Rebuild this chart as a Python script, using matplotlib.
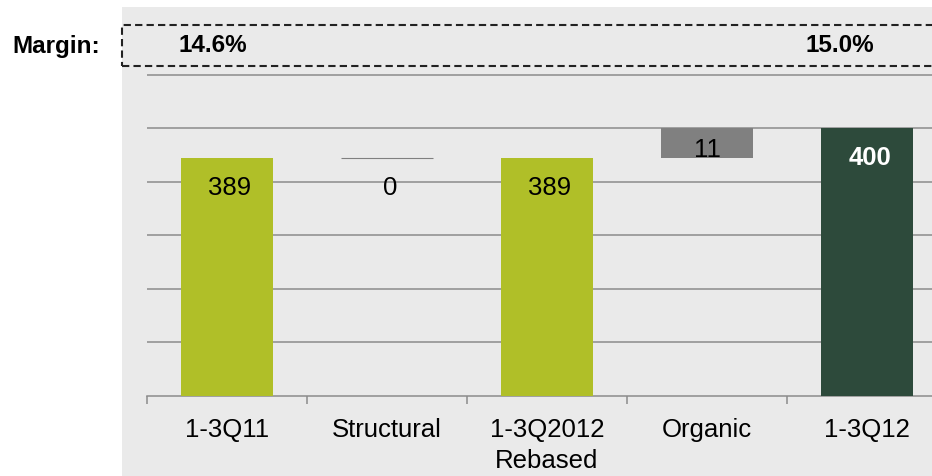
import matplotlib.pyplot as plt
from matplotlib.patches import Rectangle
import numpy as np

plt.rcParams['font.family'] = ['Liberation Sans', 'DejaVu Sans']

# waterfall data
categories = ['1-3Q11', 'Structural', '1-3Q2012\nRebased', 'Organic', '1-3Q12']
values = [389, 0, 389, 11, 400]
is_total = [True, False, True, False, True]
margin_labels = ['14.6%', '15.0%']

lime = '#B0BF28'
dark = '#2D4A3B'
delta_grey = '#808080'
bg = '#EAEAEA'
grid_col = '#8C8C8C'

fig = plt.figure(figsize=(9.32, 4.76), dpi=100)
fig.patch.set_facecolor('white')

# grey panel behind the chart
fig.patches.append(Rectangle((122 / 932, 0), 1, 1 - 7 / 476, transform=fig.transFigure,
                             facecolor=bg, edgecolor='none', zorder=-5))

# axes runs past the right edge on purpose
ax = fig.add_axes([147 / 932, 80 / 476, 800 / 932, (396 - 21.2) / 476])
ax.set_facecolor('none')

x = np.arange(len(categories))
bottoms = []
running = 0
for v, tot in zip(values, is_total):
    if tot:
        bottoms.append(0)
        running = v
    else:
        bottoms.append(running)
        running += v

colors = [lime, delta_grey, lime, delta_grey, dark]
for i in range(len(values)):
    if values[i] == 0:
        ax.bar(x[i], 0, bottom=bottoms[i], width=0.575, color='none',
               edgecolor=delta_grey, linewidth=0.8, zorder=3)
    else:
        ax.bar(x[i], values[i], bottom=bottoms[i], width=0.575,
               color=colors[i], linewidth=0, zorder=3)

# value labels
for i in range(len(values)):
    top = bottoms[i] + values[i]
    if is_total[i] or values[i] == 0:
        col = 'white' if i == len(values) - 1 else 'black'
        wt = 'bold' if i == len(values) - 1 else 'normal'
        ax.annotate(str(values[i]), (x[i], top), xytext=(2, -21.5), textcoords='offset points',
                    ha='center', va='center', fontsize=18.5, color=col, fontweight=wt, zorder=4)
    else:
        ax.annotate(str(values[i]), (x[i], bottoms[i] + values[i] / 2), xytext=(0, -5),
                    textcoords='offset points', ha='center', va='center',
                    fontsize=18.5, color='black', zorder=4)

ax.set_xlim(-0.5, len(categories) - 0.5)
ax.set_ylim(300, 440)
ax.set_yticks(np.arange(320, 421, 20))
ax.yaxis.grid(True, color=grid_col, linewidth=1.1)
ax.set_axisbelow(True)
ax.tick_params(axis='y', left=False, labelleft=False)

ax.set_xticks(x)
ax.set_xticklabels(categories, fontsize=18.5, linespacing=1.35)
ax.set_xticks(np.arange(-0.5, len(categories), 1), minor=True)
ax.tick_params(axis='x', which='major', length=0, pad=16)
ax.tick_params(axis='x', which='minor', length=6, width=1.1, color=grid_col)

for s in ['top', 'right', 'left']:
    ax.spines[s].set_visible(False)
ax.spines['bottom'].set_color(grid_col)
ax.spines['bottom'].set_linewidth(1.1)

# margin row
fig.patches.append(Rectangle((122 / 932, 1 - 65.7 / 476), 1, (65.7 - 25) / 476,
                             transform=fig.transFigure, fill=False, edgecolor='#222222',
                             linewidth=1.5, linestyle=(0, (3.5, 2)), zorder=5))
fig.text(12 / 932, 1 - 46 / 476, 'Margin:', fontsize=17.5, fontweight='bold',
         ha='left', va='center')
fig.text(213 / 932, 1 - 46 / 476, margin_labels[0], fontsize=17.5, fontweight='bold',
         ha='center', va='center')
fig.text(839.5 / 932, 1 - 46 / 476, margin_labels[1], fontsize=17.5, fontweight='bold',
         ha='center', va='center')

fig.savefig('out.png', dpi=100)
